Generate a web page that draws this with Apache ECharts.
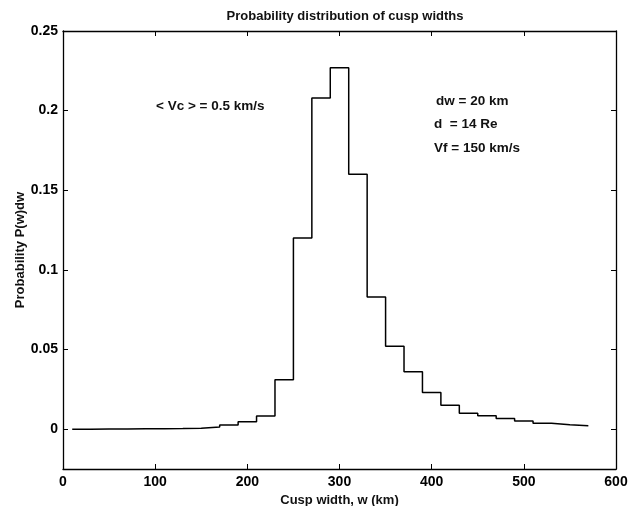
<!DOCTYPE html>
<html>
<head>
<meta charset="utf-8">
<script src="https://cdn.jsdelivr.net/npm/echarts@6/dist/echarts.min.js"></script>
<style>html,body{margin:0;padding:0;background:#fff;}#c{width:637px;height:506px;}</style>
</head>
<body>
<div id="c"></div>
<script>
// Bin left edges (km), bin width 20 km
var binLeft = [10,30,50,70,90,110,130,150,170,190,210,230,250,270,290,310,330,350,370,390,410,430,450,470,490,510,530,550];
var binValues = [0.0000,0.0001,0.0001,0.0002,0.0003,0.0004,0.0006,0.0013,0.0026,0.0046,0.0082,0.031,0.120,0.208,0.227,0.160,0.083,0.052,0.036,0.023,0.015,0.010,0.0085,0.0067,0.0052,0.0038,0.0028,0.0022];
var binWidth = 20;
var xTicks = [0,100,200,300,400,500,600];
var yTicks = [0,0.05,0.1,0.15,0.2,0.25];
var titleText = 'Probability distribution of cusp widths';
var xLabel = 'Cusp width, w (km)';
var yLabel = 'Probability P(w)dw';
var notes = ['< Vc > = 0.5 km/s', 'dw = 20 km', 'd  = 14 Re', 'Vf = 150 km/s'];

var stepData = binLeft.map(function(x, i){ return [x, binValues[i]]; });
stepData.push([binLeft[binLeft.length-1] + binWidth, binValues[binValues.length-1]]);

var FONT = "'Liberation Sans', Arial, Helvetica, sans-serif";
var chart = echarts.init(document.getElementById('c'), null, {renderer:'canvas'});

function fmtY(v){ return String(+(+v).toFixed(3)); }

var tickStyle = {show:true, inside:true, length:5, lineStyle:{color:'#000', width:1}};
var lineStyle = {show:true, onZero:false, lineStyle:{color:'#000', width:1.3}};

chart.setOption({
  animation:false,
  backgroundColor:'#fff',
  title:{text:titleText, left:340, top:5, textAlign:'center',
    textStyle:{fontFamily:FONT, fontSize:13, fontWeight:'bold', color:'#111'}},
  grid:{left:63, top:31, right:21, bottom:37, containLabel:false, outerBoundsMode:'none'},
  xAxis:[
    {type:'value', min:0, max:600, position:'bottom',
     axisLine:lineStyle,
     axisTick:Object.assign({customValues:xTicks}, tickStyle),
     axisLabel:{customValues:xTicks, color:'#000', fontFamily:FONT, fontSize:14, fontWeight:'bold', margin:6},
     splitLine:{show:false},
     name:xLabel, nameLocation:'middle', nameGap:20,
     nameTextStyle:{fontFamily:FONT, fontSize:13, fontWeight:'bold', color:'#111'}},
    {type:'value', min:0, max:600, position:'top',
     axisLine:lineStyle,
     axisTick:Object.assign({customValues:xTicks}, tickStyle),
     axisLabel:{show:false}, splitLine:{show:false}}
  ],
  yAxis:[
    {type:'value', min:-0.025, max:0.25, position:'left',
     axisLine:lineStyle,
     axisTick:Object.assign({customValues:yTicks}, tickStyle),
     axisLabel:{customValues:yTicks, formatter:fmtY, color:'#000', fontFamily:FONT, fontSize:14, fontWeight:'bold', margin:5},
     splitLine:{show:false},
     name:yLabel, nameLocation:'middle', nameGap:36, nameRotate:90, nameMoveOverlap:false,
     nameTextStyle:{fontFamily:FONT, fontSize:13, fontWeight:'bold', color:'#111'}},
    {type:'value', min:-0.025, max:0.25, position:'right',
     axisLine:lineStyle,
     axisTick:Object.assign({customValues:yTicks}, tickStyle),
     axisLabel:{show:false}, splitLine:{show:false}}
  ],
  series:[{
    type:'line', xAxisIndex:0, yAxisIndex:0,
    step:'end', data:stepData, symbol:'none',
    lineStyle:{color:'#000', width:1.5}
  }],
  graphic:[
    {type:'text', left:156, top:99, style:{text:notes[0], fill:'#111', font:'bold 13.5px ' + FONT}},
    {type:'text', left:436, top:94, style:{text:notes[1], fill:'#111', font:'bold 13.5px ' + FONT}},
    {type:'text', left:434, top:117, style:{text:notes[2], fill:'#111', font:'bold 13.5px ' + FONT}},
    {type:'text', left:434, top:141, style:{text:notes[3], fill:'#111', font:'bold 13.5px ' + FONT}}
  ]
});
</script>
</body>
</html>
